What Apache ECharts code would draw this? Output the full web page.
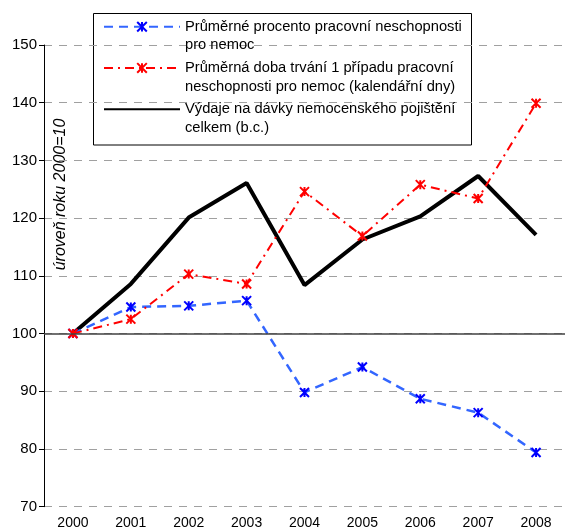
<!DOCTYPE html>
<html>
<head>
<meta charset="utf-8">
<script src="https://cdn.jsdelivr.net/npm/echarts@6/dist/echarts.min.js"></script>
<style>
html,body{margin:0;padding:0;background:#fff;}
#chart{width:565px;height:530px;}
</style>
</head>
<body>
<div id="chart"></div>
<script>
const years = ['2000','2001','2002','2003','2004','2005','2006','2007','2008'];
const pctNeschopnost = [100, 104.6, 104.8, 105.7, 89.8, 94.2, 88.7, 86.3, 79.4];
const dobaTrvani = [100, 102.5, 110.3, 108.6, 124.6, 116.9, 125.8, 123.4, 139.9];
const vydaje = [100, 108.6, 120.1, 126.1, 108.4, 116.3, 120.3, 127.3, 117.1];
const seriesNames = [
  'Průměrné procento pracovní neschopnosti pro nemoc',
  'Průměrná doba trvání 1 případu pracovní neschopnosti pro nemoc (kalendářní dny)',
  'Výdaje na dávky nemocenského pojištění celkem (b.c.)'
];
const legendLines = {};
legendLines[seriesNames[0]] = ['Průměrné procento pracovní neschopnosti', 'pro nemoc'];
legendLines[seriesNames[1]] = ['Průměrná doba trvání 1 případu pracovní', 'neschopnosti pro nemoc (kalendářní dny)'];
legendLines[seriesNames[2]] = ['Výdaje na dávky nemocenského pojištění', 'celkem (b.c.)'];
const yAxisTitle = 'úroveň roku 2000=10';

const FONT = '"Liberation Sans", Arial, sans-serif';
const star = 'path://M0,0L10,10M10,0L0,10M5,0L5,10';
const LH = 18.5;

const chart = echarts.init(document.getElementById('chart'));
chart.setOption({
  animation: false,
  backgroundColor: '#fff',
  textStyle: {fontFamily: FONT},
  grid: {left: 44, right: 0, top: 45, bottom: 23.3, containLabel: false},
  xAxis: {
    type: 'category',
    data: years,
    boundaryGap: true,
    axisLine: {show: false},
    axisTick: {show: false},
    axisLabel: {fontSize: 14, color: '#000', margin: 9, fontFamily: FONT},
    splitLine: {show: false}
  },
  yAxis: {
    type: 'value',
    min: 70, max: 150, interval: 10,
    axisLine: {show: true, lineStyle: {color: '#000', width: 1}},
    axisTick: {show: true, length: 5, lineStyle: {color: '#000'}},
    axisLabel: {fontSize: 15, color: '#000', margin: 7, fontFamily: FONT},
    splitLine: {show: true, lineStyle: {color: '#a0a0a0', type: [8, 7], width: 1}}
  },
  legend: {
    orient: 'vertical',
    left: 103, top: -1,
    padding: 0,
    itemWidth: 76, itemHeight: 12,
    itemGap: 41.2 - 3 * LH,
    data: seriesNames,
    formatter: function (n) { return ' \n' + legendLines[n].join('\n'); },
    textStyle: {fontSize: 14.7, color: '#000', lineHeight: LH, fontFamily: FONT}
  },
  graphic: [
    {type: 'rect', z: -1, zlevel: 0, shape: {x: 93.5, y: 13.5, width: 378, height: 131.5},
     style: {fill: '#fff', stroke: '#000', lineWidth: 1}},
    {type: 'text', x: 61, y: 194.5, rotation: Math.PI / 2,
     style: {text: yAxisTitle, font: 'italic 16px ' + FONT, fill: '#000', align: 'center', verticalAlign: 'middle'}}
  ],
  series: [
    {
      name: seriesNames[0], type: 'line', data: pctNeschopnost, z: 3,
      symbol: star, symbolSize: 9,
      lineStyle: {color: '#3366ff', width: 2.5, type: [9, 6]},
      itemStyle: {color: '#0000ff', borderColor: '#0000ff', borderWidth: 2},
      markLine: {
        silent: true, symbol: 'none', label: {show: false},
        lineStyle: {color: '#404040', width: 1.5, type: 'solid'},
        data: [{yAxis: 100}]
      }
    },
    {
      name: seriesNames[1], type: 'line', data: dobaTrvani, z: 4,
      symbol: star, symbolSize: 9,
      lineStyle: {color: '#ff0000', width: 2, type: [9, 5, 2, 5]},
      itemStyle: {color: '#ff0000', borderColor: '#ff0000', borderWidth: 2}
    },
    {
      name: seriesNames[2], type: 'line', data: vydaje, z: 2,
      symbol: 'circle', showSymbol: false,
      lineStyle: {color: '#000', width: 4, type: 'solid', opacity: 1},
      itemStyle: {color: '#000', opacity: 0}
    }
  ]
});
</script>
</body>
</html>
